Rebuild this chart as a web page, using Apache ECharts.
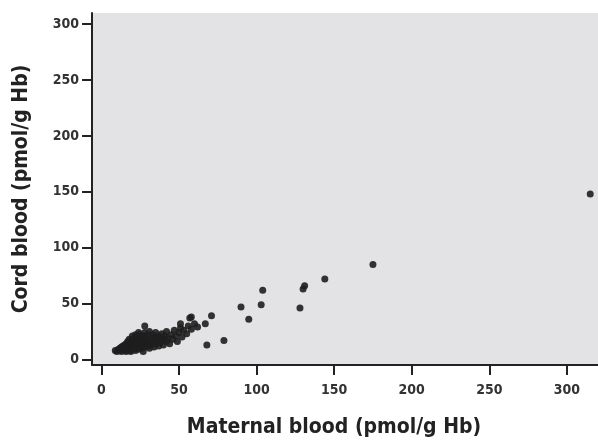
<!DOCTYPE html>
<html>
<head>
<meta charset="utf-8">
<script src="https://cdn.jsdelivr.net/npm/echarts@6/dist/echarts.min.js"></script>
<style>
html,body{margin:0;padding:0;background:#fff;}
#chart{width:598px;height:443px;}
</style>
</head>
<body>
<div id="chart"></div>
<script>
const xTicks = [0, 50, 100, 150, 200, 250, 300];
const yTicks = [0, 50, 100, 150, 200, 250, 300];
const xName = 'Maternal blood (pmol/g Hb)';
const yName = 'Cord blood (pmol/g Hb)';

const outlierPoints = [
  [315,148],[175,85],[144,72],[131,66],[130,63],[128,46],[104,62],[103,49],
  [90,47],[95,36],[79,17],[68,13],[71,39],[67,32],[58,38],[57,37],[51,32],[28,30]
];
const clusterPoints = [
  [9,8],[10,7],[11,9],[12,8],[12,10],[13,7],[13,11],[14,9],[14,12],[15,8],[15,13],[15,10],
  [16,7],[16,11],[16,14],[17,9],[17,12],[17,16],[18,8],[18,10],[18,13],[18,18],[19,11],[19,15],
  [19,7],[20,9],[20,12],[20,17],[20,21],[21,10],[21,14],[21,19],[22,8],[22,12],[22,16],[22,22],
  [23,11],[23,14],[23,18],[24,9],[24,13],[24,20],[24,24],[25,12],[25,16],[25,22],[26,10],[26,14],
  [26,18],[27,13],[27,21],[27,7],[28,11],[28,16],[28,24],[29,14],[29,19],[30,12],[30,17],[30,22],
  [31,10],[31,15],[31,25],[32,13],[32,19],[33,16],[33,22],[34,11],[34,18],[35,14],[35,20],[35,24],
  [36,17],[37,12],[37,21],[38,15],[38,19],[39,23],[40,13],[40,18],[41,21],[42,16],[42,25],[43,19],
  [44,14],[45,22],[46,18],[47,26],[48,21],[49,16],[50,24],[51,28],[52,20],[53,26],[55,23],[56,30],
  [58,27],[60,32],[62,29]
];

const font = '"DejaVu Sans Condensed", "Liberation Sans", sans-serif';
const chart = echarts.init(document.getElementById('chart'));
chart.setOption({
  animation: false,
  backgroundColor: '#ffffff',
  grid: {
    left: 92, right: 0, top: 13, bottom: 78,
    outerBoundsMode: 'none', containLabel: false,
    show: true, backgroundColor: '#e3e3e5', borderWidth: 0
  },
  xAxis: {
    type: 'value', min: -6, max: 320,
    name: xName, nameLocation: 'middle', nameGap: 52,
    nameTextStyle: { fontFamily: font, fontWeight: 'bold', fontSize: 21, color: '#222', padding: [0, 22, 0, 0] },
    axisLine: { show: true, onZero: false, lineStyle: { color: '#222', width: 2 } },
    axisTick: { show: true, length: 10, customValues: xTicks, lineStyle: { color: '#222', width: 2 } },
    axisLabel: { customValues: xTicks, fontFamily: font, fontWeight: 'bold', fontSize: 14, color: '#333', margin: 18 },
    splitLine: { show: false }
  },
  yAxis: {
    type: 'value', min: -5, max: 310,
    name: yName, nameLocation: 'middle', nameGap: 60, nameRotate: 90,
    nameTextStyle: { fontFamily: font, fontWeight: 'bold', fontSize: 21, color: '#222' },
    axisLine: { show: true, onZero: false, lineStyle: { color: '#222', width: 2 } },
    axisTick: { show: true, length: 10, customValues: yTicks, lineStyle: { color: '#222', width: 2 } },
    axisLabel: { customValues: yTicks, fontFamily: font, fontWeight: 'bold', fontSize: 14, color: '#333', margin: 13 },
    splitLine: { show: false }
  },
  series: [
    { type: 'scatter', data: clusterPoints, symbolSize: 7, itemStyle: { color: '#1e1e1e', opacity: 0.9 } },
    { type: 'scatter', data: outlierPoints, symbolSize: 7, itemStyle: { color: '#1e1e1e', opacity: 0.9 } }
  ]
});
</script>
</body>
</html>
